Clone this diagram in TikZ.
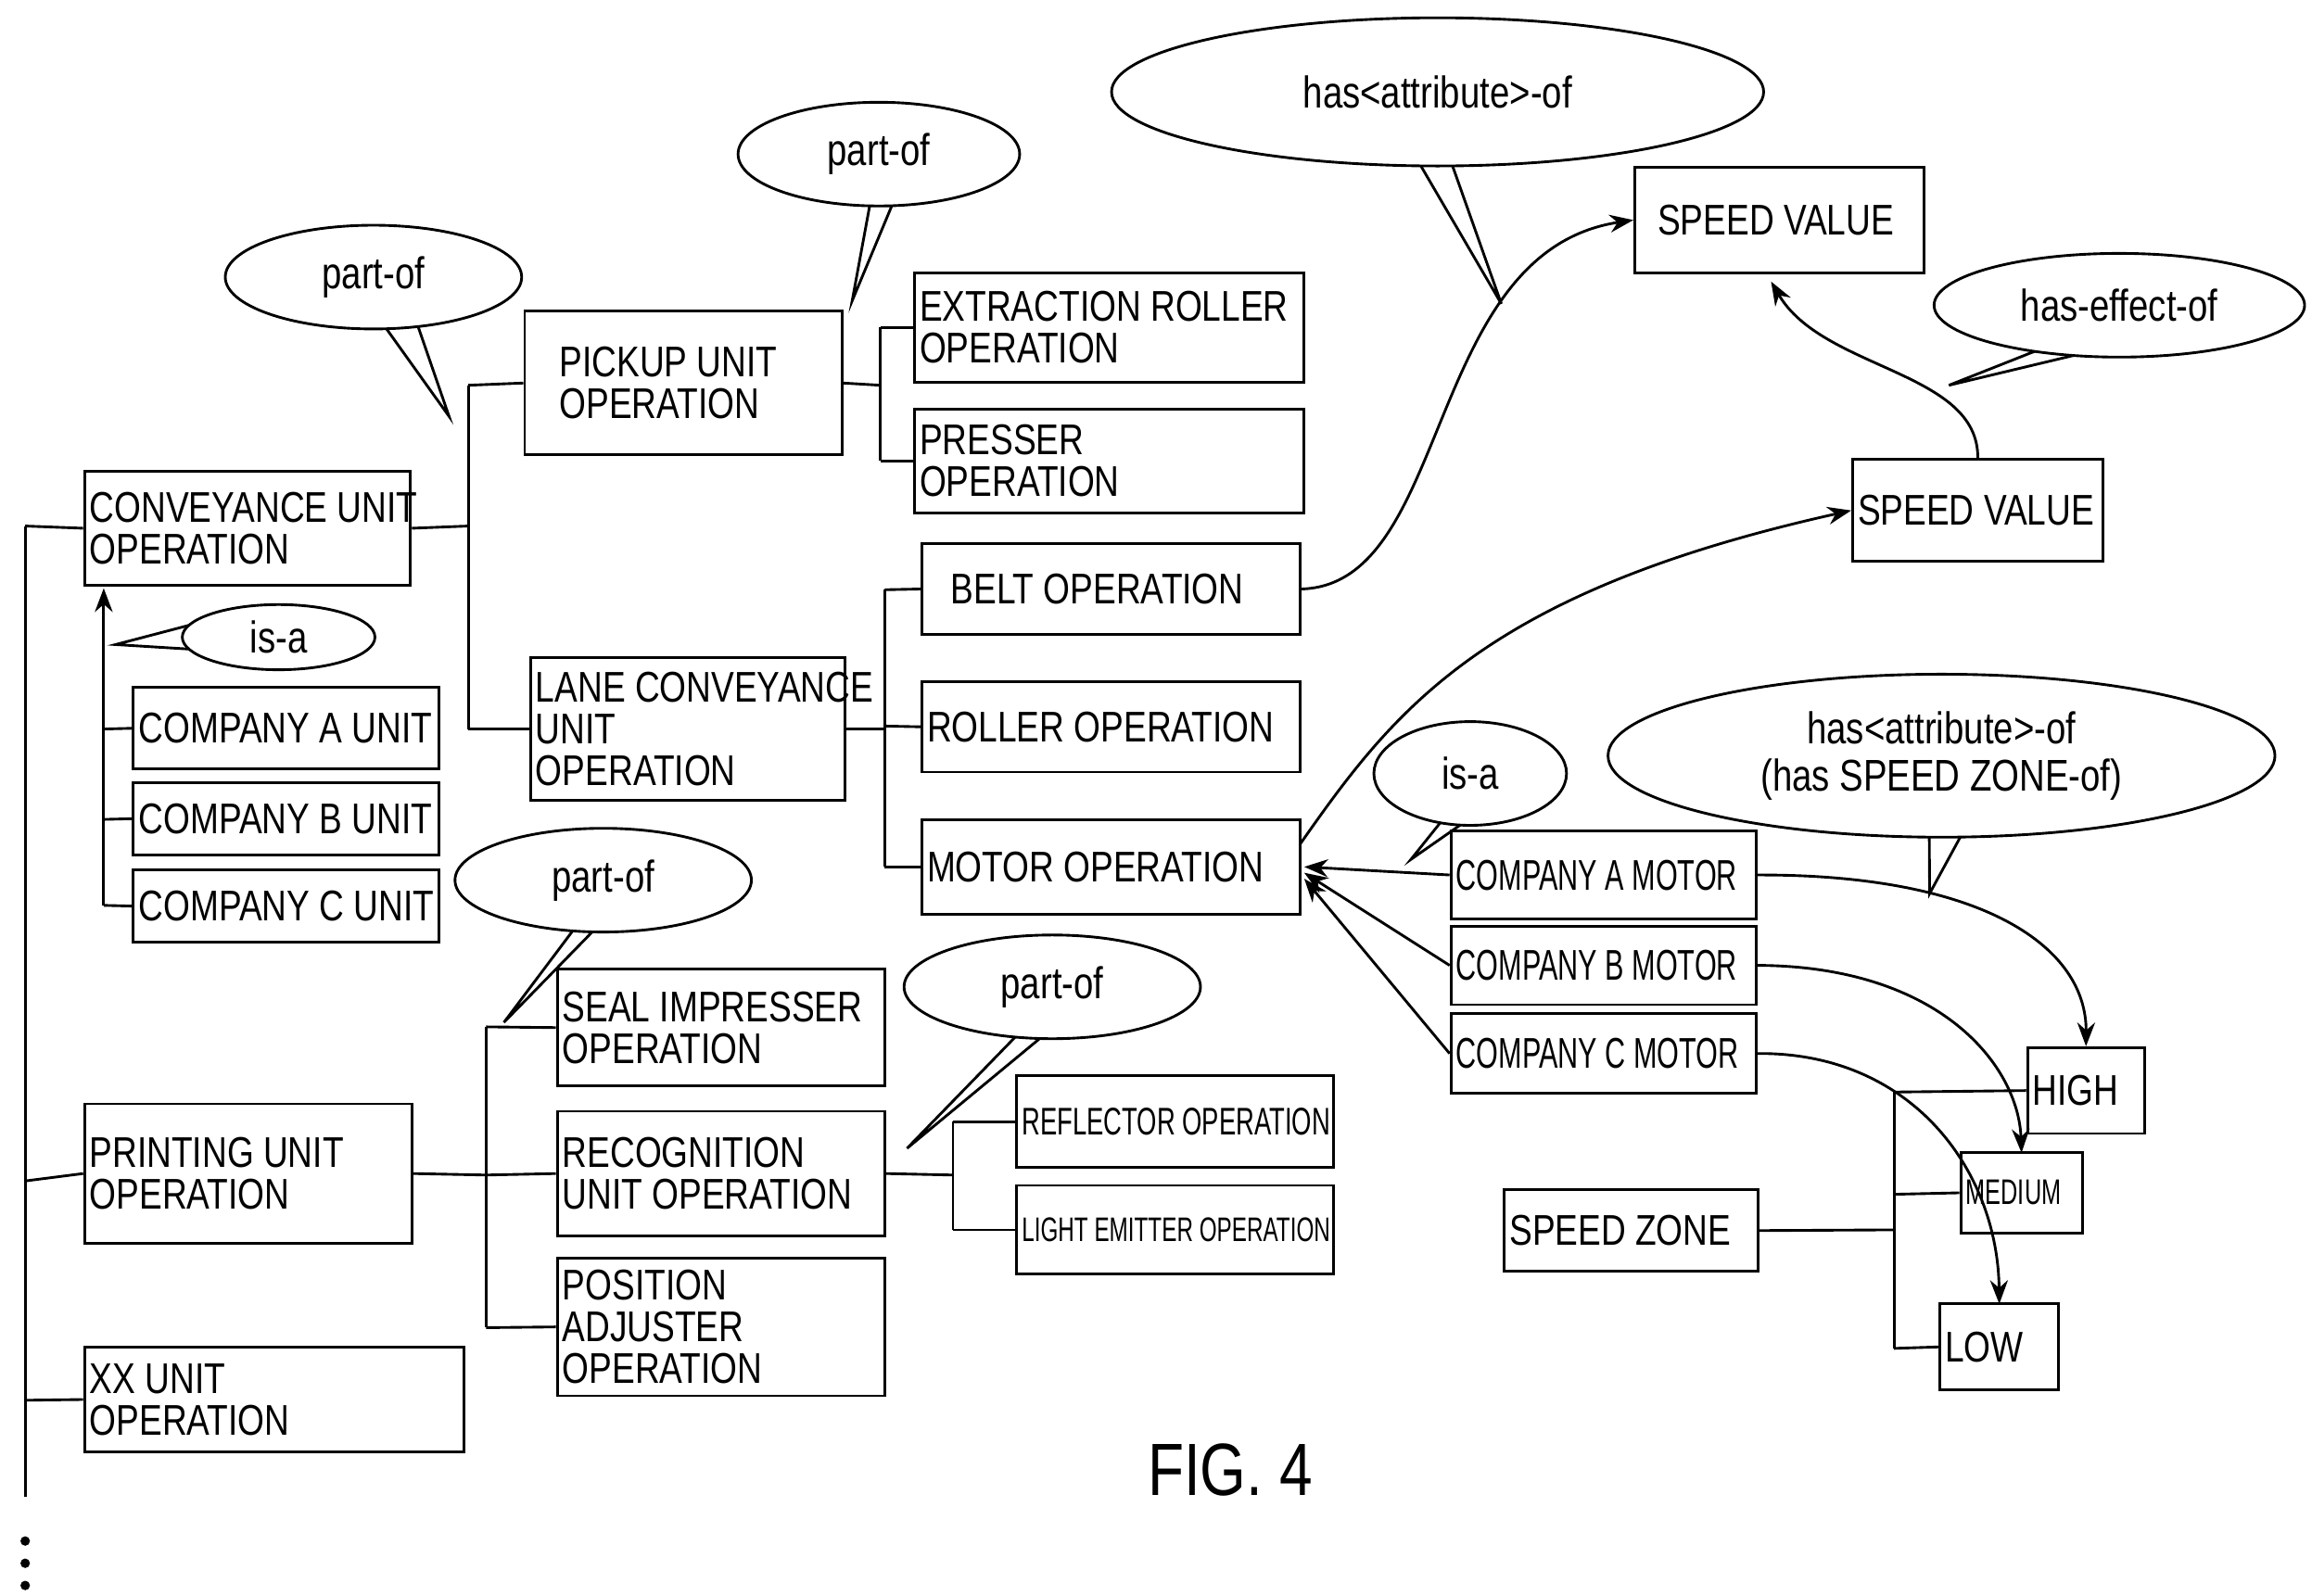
\documentclass[tikz,border=0pt]{standalone}
\usepackage{fontspec}
\setmainfont{Liberation Sans}[FakeStretch=0.8]
\newfontfamily\cond{Liberation Sans}[FakeStretch=0.66]
\usetikzlibrary{shapes.geometric,calc,arrows.meta}
\begin{document}
\begin{tikzpicture}[x=0.5pt,y=-0.5pt,
  box/.style={draw,line width=0.9pt,inner sep=0pt},
  txt/.style={inner sep=0pt,align=left,anchor=west,font=\fontsize{14.5}{14}\selectfont},
  ln/.style={line width=0.9pt},
  ar/.style={line width=0.9pt,-{Stealth[length=8pt,width=6pt]}},
  ell/.style={ellipse,draw,line width=0.9pt,fill=white,font=\fontsize{15}{16}\selectfont,align=center,inner sep=0pt}]
\useasboundingbox (0,0) rectangle (1560,1077);
\newcommand\bx[6]{\pgfmathsetmacro\bw{(#4-#2)*0.5}\pgfmathsetmacro\bh{(#5-#3)*0.5}%
  \node[box,minimum width=\bw pt,minimum height=\bh pt] (#1) at ({(#2+#4)/2},{(#3+#5)/2}) {};
  \node[txt] (#1l) at ($(#1.west)+(4,0)$) {#6};}
\newcommand\co[9]{\pgfmathsetmacro\ew{#4}\pgfmathsetmacro\eh{#5}%
  \path (#2,#3) node[ellipse,minimum width=\ew pt,minimum height=\eh pt,inner sep=0pt] (#1p) {};
  \coordinate (#1t) at #8;
  \draw[line width=0.9pt] ($(#1p.center)!0.85!(#1p.#6)$) -- (#1t) -- ($(#1p.center)!0.85!(#1p.#7)$);
  \node[ell,minimum width=\ew pt,minimum height=\eh pt] (#1) at (#2,#3) {#9};}

\bx{conv}{57}{318}{277}{395}{CONVEYANCE UNIT\\OPERATION}
\bx{pick}{354}{210}{568}{307}{\hspace*{10pt}PICKUP UNIT\\\hspace*{10pt}OPERATION}
\bx{extr}{617}{184}{880}{258}{EXTRACTION ROLLER\\OPERATION}
\bx{pres}{617}{276}{880}{346}{PRESSER\\OPERATION}
\bx{lane}{358}{444}{570}{540}{LANE CONVEYANCE\\UNIT\\OPERATION}
\bx{belt}{622}{367}{877}{428}{\hspace*{8pt}BELT OPERATION}
\bx{roll}{622}{460}{877}{521}{ROLLER OPERATION}
\bx{motor}{622}{553}{877}{617}{MOTOR OPERATION}
\bx{ua}{90}{464}{296}{519}{COMPANY A UNIT}
\bx{ub}{90}{528}{296}{577}{COMPANY B UNIT}
\bx{uc}{90}{587}{296}{636}{COMPANY C UNIT}
\bx{print}{57}{745}{278}{839}{PRINTING UNIT\\OPERATION}
\bx{seal}{376}{654}{597}{733}{SEAL IMPRESSER\\OPERATION}
\bx{recog}{376}{750}{597}{834}{RECOGNITION\\UNIT OPERATION}
\bx{pos}{376}{849}{597}{942}{POSITION\\ADJUSTER\\OPERATION}
\bx{refl}{686}{726}{900}{788}{\cond\fontsize{13}{13}\selectfont REFLECTOR OPERATION}
\bx{light}{686}{800}{900}{860}{\cond\fontsize{11.5}{12}\selectfont LIGHT EMITTER OPERATION}
\bx{xx}{57}{909}{313}{980}{XX UNIT\\OPERATION}
\bx{sv1}{1103}{113}{1298}{184}{\hspace*{6pt}SPEED VALUE}
\bx{sv2}{1250}{310}{1419}{379}{SPEED VALUE}
\bx{ma}{979}{561}{1185}{620}{\cond COMPANY A MOTOR}
\bx{mb}{979}{625}{1185}{678}{\cond COMPANY B MOTOR}
\bx{mc}{979}{684}{1185}{738}{\cond COMPANY C MOTOR}
\bx{high}{1368}{707}{1447}{765}{HIGH}
\bx{med}{1323}{778}{1405}{832}{\cond\fontsize{12}{12}\selectfont MEDIUM}
\bx{low}{1309}{880}{1389}{938}{LOW}
\bx{zone}{1015}{803}{1186}{858}{SPEED ZONE}

% spine
\coordinate (s0) at (17,355); \coordinate (s1) at (17,1010);
\draw[ln] (s0) -- (s1);
\draw[ln] (s0) -- (conv.west);
\draw[ln] (17,797) -- (print.west);
\draw[ln] (17,945) -- (xx.west);
\foreach \yy in {1040,1055,1070} \fill (17,\yy) circle (1.6pt);
% conveyance
\draw[ln] (conv.east) -- (316,355);
\draw[ln] (316,260) -- (316,492);
\draw[ln] (316,260) -- (pick.west);
\draw[ln] (316,492) -- (lane.west);
\draw[ln] (pick.east) -- (594,260);
\draw[ln] (594,221) -- (594,311);
\draw[ln] (594,221) -- (extr.west|-594,221);
\draw[ln] (594,311) -- (pres.west|-594,311);
\draw[ln] (lane.east) -- (597,492);
\draw[ln] (597,398) -- (597,585);
\draw[ln] (597,398) -- (belt.west);
\draw[ln] (597,490) -- (roll.west);
\draw[ln] (597,585) -- (motor.west);
% is-a units
\draw[ar] (70,611) -- (70,397);
\draw[ln] (70,492) -- (ua.west);
\draw[ln] (70,553) -- (ub.west);
\draw[ln] (70,611) -- (uc.west);
% printing
\draw[ln] (print.east) -- (328,793);
\draw[ln] (328,693) -- (328,896);
\draw[ln] (328,693) -- (seal.west);
\draw[ln] (328,793) -- (recog.west);
\draw[ln] (328,896) -- (pos.west);
\draw[ln] (recog.east) -- (643,793);
\draw[ln] (643,757) -- (643,830);
\draw[ln] (643,757) -- (refl.west);
\draw[ln] (643,830) -- (light.west);
% speed zone
\draw[ln] (zone.east) -- (1278,830);
\draw[ln] (1278,737) -- (1278,910);
\draw[ln] (1278,737) -- (high.west);
\draw[ln] (1278,806) -- (med.west);
\draw[ln] (1278,910) -- (low.west);
% curves
\draw[ar] (belt.east) .. controls (980,395) and (960,170) .. (sv1.west);
\draw[ar] (877,570) .. controls (940,480) and (1000,400) .. (sv2.west);
\draw[ar] (sv2.north) .. controls (1335,250) and (1230,250) .. (1195,190);
\draw[ar] (ma.west) -- (880,585);
\draw[ar] (mb.west) -- (880,589);
\draw[ar] (mc.west) -- (880,593);
\draw[ar] (ma.east) .. controls (1340,590) and (1408,640) .. (high.north);
\draw[ar] (mb.east) .. controls (1310,652) and (1362,720) .. (1364,778);
\draw[ar] (mc.east) .. controls (1290,710) and (1348,790) .. (1349,880);
% callouts
\co{c1}{252}{187}{100}{35}{-80}{-45}{(303,281)}{part-of}
\co{c2}{593}{104}{95}{35}{-100}{-70}{(575,203)}{part-of}
\co{c3}{970}{62}{220}{50}{-110}{-80}{(1013,205)}{has<attribute>-of}
\co{c4}{1430}{206}{125}{35}{-150}{-115}{(1315,260)}{has-effect-of}
\co{c5}{188}{430}{65}{22}{190}{160}{(78,435)}{is-a}
\co{c6}{407}{594}{100}{35}{-120}{-95}{(340,690)}{part-of}
\co{c7}{710}{666}{100}{35}{-125}{-95}{(612,775)}{part-of}
\co{c8}{992}{522}{65}{35}{-120}{-90}{(952,580)}{is-a}
\co{c9}{1310}{510}{225}{55}{-100}{-70}{(1302,603)}{has<attribute>-of\\(has SPEED ZONE-of)}
\node[font=\fontsize{25}{25}\selectfont] (fig) at (830,992) {FIG. 4};
\end{tikzpicture}
\end{document}
